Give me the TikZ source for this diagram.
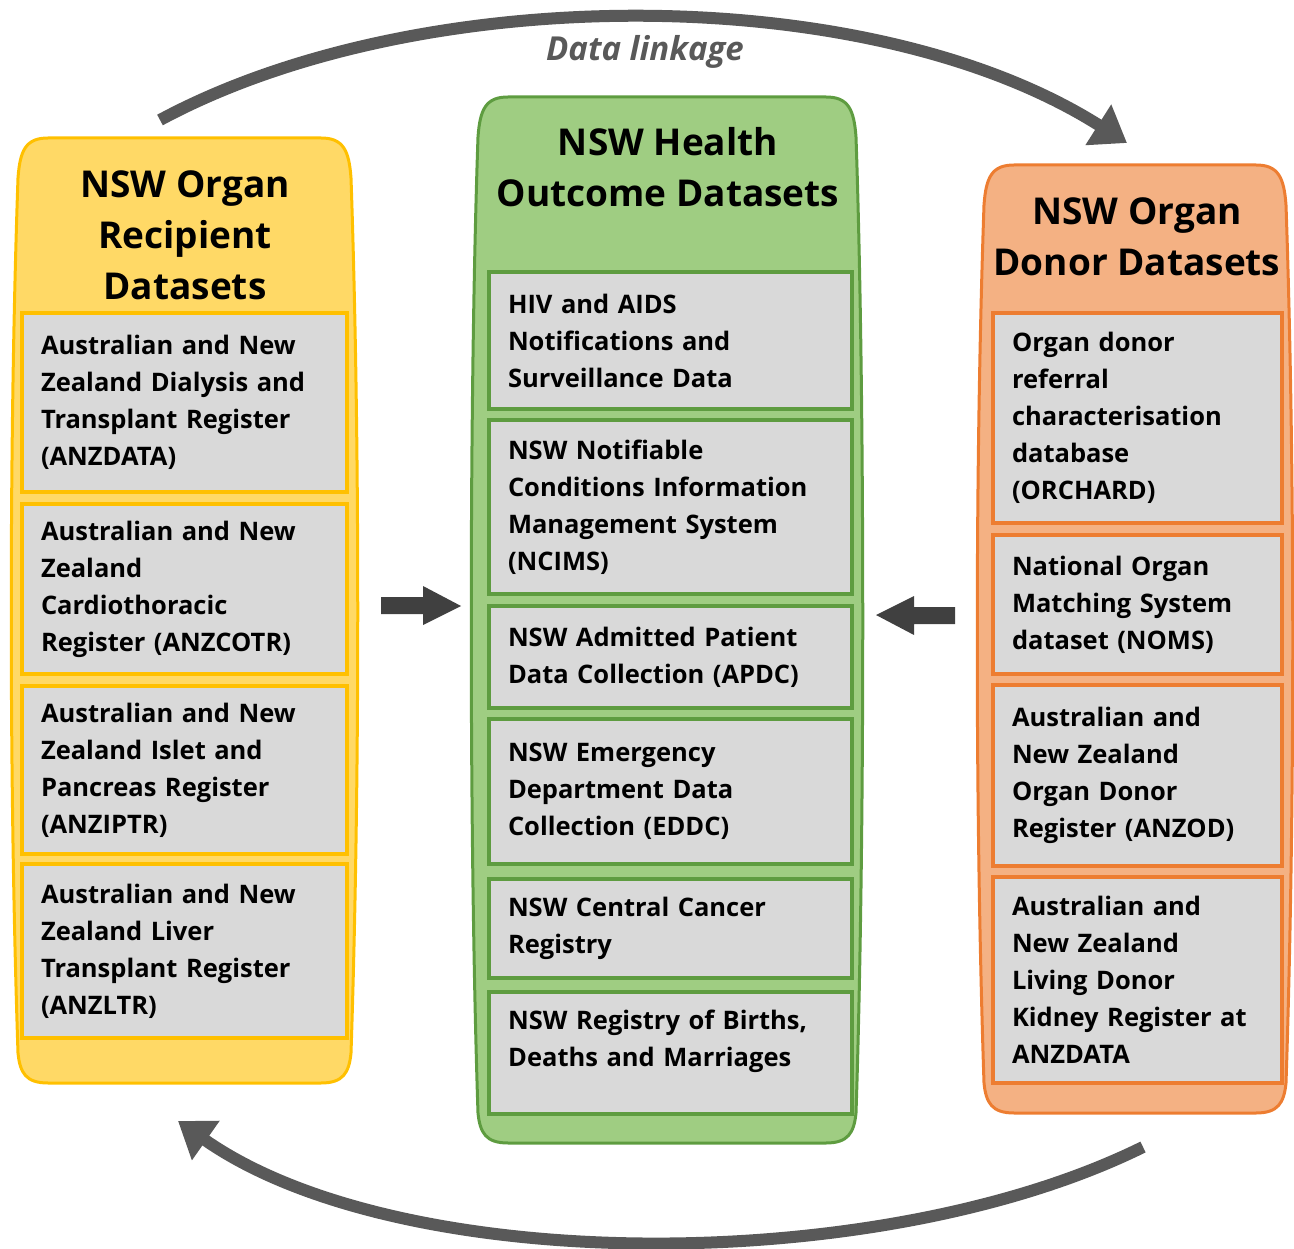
\documentclass[tikz,border=0pt]{standalone}
\usepackage{fontspec}
\setmainfont{Open Sans}
\usetikzlibrary{arrows.meta}
\definecolor{ylwfill}{HTML}{FFD966}
\definecolor{ylwline}{HTML}{FFC000}
\definecolor{grnfill}{HTML}{9FCD82}
\definecolor{grnline}{HTML}{5E9C40}
\definecolor{orgfill}{HTML}{F4B183}
\definecolor{orgline}{HTML}{ED7D31}
\definecolor{boxgray}{HTML}{D9D9D9}
\definecolor{arrgray}{HTML}{404040}
\definecolor{linkgray}{HTML}{595959}
\newcommand\drawcol[5]{%
  \path[#1] ({#2+30},#4) -- ({#3-30},#4)
   .. controls ({#3-8},#4) and ({#3-2},{#4+12}) .. (#3,{#4+40})
   .. controls ({#3+9},{#4+300}) and ({#3+9},{#5-300}) .. (#3,{#5-30})
   .. controls ({#3-2},{#5-10}) and ({#3-8},#5) .. ({#3-30},#5)
   -- ({#2+30},#5)
   .. controls ({#2+8},#5) and ({#2+2},{#5-10}) .. (#2,{#5-30})
   .. controls ({#2-9},{#5-300}) and ({#2-9},{#4+300}) .. (#2,{#4+40})
   .. controls ({#2+2},{#4+12}) and ({#2+8},#4) .. ({#2+30},#4) -- cycle;}
\begin{document}
\begin{tikzpicture}[x=1pt,y=-1pt,
  coltitle/.style={align=center,font=\bfseries\fontsize{37}{51}\selectfont,inner sep=0pt},
  bodyfont/.style={font=\bfseries\fontsize{25.5}{37}\selectfont},
  dbox/.style={draw=#1,line width=4pt,fill=boxgray,anchor=north west,align=left,
     inner xsep=19pt,inner ysep=0pt,bodyfont},
  lbox/.style={dbox=ylwline,text width=287pt},
  mbox/.style={dbox=grnline,text width=325pt},
  rbox/.style={dbox=orgline,text width=251pt},
  blockarrow/.style={fill=arrgray},
  link/.style={draw=linkgray,line width=12pt,-{Triangle[length=34pt,width=46pt]}}]
\useasboundingbox (0,0) rectangle (1294,1249);
% columns
\drawcol{fill=ylwfill,draw=ylwline,line width=3pt}{18}{351}{138}{1083}
\drawcol{fill=grnfill,draw=grnline,line width=3pt}{478}{856}{97}{1143}
\drawcol{fill=orgfill,draw=orgline,line width=3pt}{984}{1286}{165}{1113}
% titles
\node[coltitle] (tL) at (185,235) {NSW Organ\\Recipient\\Datasets};
\node[coltitle] (tM) at (668,167) {NSW Health\\Outcome Datasets};
\node[coltitle] (tR) at (1137,237) {NSW Organ\\Donor Datasets};
% left boxes
\node[lbox,minimum height=179pt] (L1) at (20,311) {Australian and New\\Zealand Dialysis and\\Transplant Register\\(ANZDATA)};
\node[lbox,minimum height=170pt] (L2) at (20,502) {Australian and New\\Zealand\\Cardiothoracic\\Register (ANZCOTR)};
\node[lbox,minimum height=168pt] (L3) at (20,684) {Australian and New\\Zealand Islet and\\Pancreas Register\\(ANZIPTR)};
\node[lbox,minimum height=174pt] (L4) at (20,862) {Australian and New\\Zealand Liver\\Transplant Register\\(ANZLTR)};
% middle boxes
\node[mbox,minimum height=137pt] (M1) at (487,270) {HIV and AIDS\\Notifications and\\Surveillance Data};
\node[mbox,minimum height=174pt] (M2) at (487,418) {NSW Notifiable\\Conditions Information\\Management System\\(NCIMS)};
\node[mbox,minimum height=102pt] (M3) at (487,604) {NSW Admitted Patient\\Data Collection (APDC)};
\node[mbox,minimum height=145pt] (M4) at (487,717) {NSW Emergency\\Department Data\\Collection (EDDC)};
\node[mbox,minimum height=99pt] (M5) at (487,877) {NSW Central Cancer\\Registry};
\node[mbox,minimum height=122pt] (M6) at (487,990) {};
\node[bodyfont,anchor=west,align=left,text width=325pt,inner sep=0pt] (M6t) at (508,1041) {NSW Registry of Births,\\Deaths and Marriages};
% right boxes
\node[rbox,minimum height=210pt] (R1) at (991,311) {Organ donor\\referral\\characterisation\\database\\(ORCHARD)};
\node[rbox,minimum height=139pt] (R2) at (991,533) {National Organ\\Matching System\\dataset (NOMS)};
\node[rbox,minimum height=181pt] (R3) at (991,683) {Australian and\\New Zealand\\Organ Donor\\Register (ANZOD)};
\node[rbox,minimum height=206pt] (R4) at (991,875) {Australian and\\New Zealand\\Living Donor\\Kidney Register at\\ANZDATA};
% block arrows
\fill[blockarrow] (381,597) -- (423,597) -- (423,586) -- (461,606) -- (423,625) -- (423,614) -- (381,614) -- cycle;
\fill[blockarrow] (955,607) -- (914,607) -- (914,596) -- (876,615) -- (914,635) -- (914,624) -- (955,624) -- cycle;
% data linkage arcs
\coordinate (topS) at (160,120);
\coordinate (topE) at (1127,143);
\coordinate (botS) at (1143,1147);
\coordinate (botE) at (178,1121);
\draw[link] (topS) .. controls (420,-20) and (870,-20) .. (topE);
\draw[link] (botS) .. controls (880,1277) and (400,1277) .. (botE);
\node[text=linkgray,font=\bfseries\itshape\fontsize{33}{38}\selectfont] (dl) at (645,52) {Data linkage};
\end{tikzpicture}
\end{document}
